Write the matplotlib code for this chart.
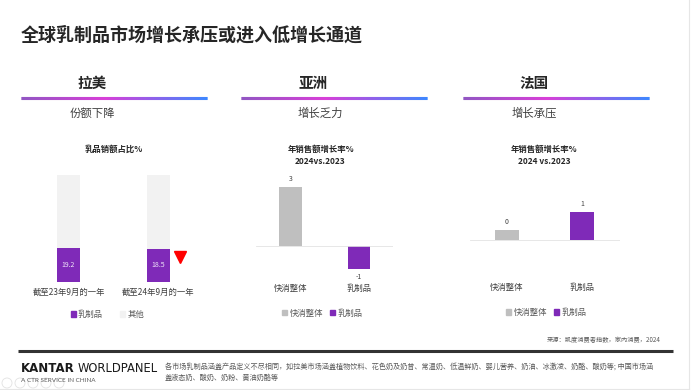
import numpy as np
import matplotlib
matplotlib.use("Agg")
import matplotlib.pyplot as plt
from matplotlib.patches import Patch, Circle
from matplotlib.collections import LineCollection
from matplotlib.colors import LinearSegmentedColormap
from matplotlib.transforms import offset_copy

plt.rcParams['font.family'] = ['Noto Sans CJK SC', 'DejaVu Sans']

# ---------------- data ----------------
title = "全球乳制品市场增长承压或进入低增长通道"
regions = ["拉美", "亚洲", "法国"]
region_notes = ["份额下降", "增长乏力", "增长承压"]

latam_periods = ["截至23年9月的一年", "截至24年9月的一年"]
latam_dairy_share = [19.2, 18.5]
latam_other_share = [80.8, 81.5]
latam_series = ["乳制品", "其他"]

growth_categories = ["快消整体", "乳制品"]
asia_growth = [2.6, -1.04]
france_growth = [0.37, 1.0]

source_text = "来源：凯度消费者指数，家内消费，2024"
footnote_lines = [
    "各市场乳制品涵盖产品定义不尽相同，如拉美市场涵盖植物饮料、花色奶及奶昔、常温奶、低温鲜奶、婴儿营养、奶油、冰激凌、奶酪、酸奶等; 中国市场涵",
    "盖液态奶、酸奶、奶粉、黄油奶酪等",
]

# ---------------- style ----------------
PURPLE = "#7F2AB8"
GREY = "#BFBFBF"
LIGHT = "#F2F2F2"
TXT = "#404040"
W, H = 692, 390

fig = plt.figure(figsize=(W / 100, H / 100), dpi=100)
fig.patch.set_facecolor("white")

bg = fig.add_axes([0, 0, 1, 1])
bg.set_xlim(0, W)
bg.set_ylim(H, 0)
bg.axis("off")


def px_axes(x0, y0, x1, y1):
    return fig.add_axes([x0 / W, 1 - y1 / H, (x1 - x0) / W, (y1 - y0) / H])


# title
bg.text(21, 35, title, fontsize=13, fontweight="bold", color="#262626",
        va="center", ha="left")

# region headers with gradient underline
cmap = LinearSegmentedColormap.from_list(
    "grad", [(0, "#6E1FB0"), (0.45, "#CC00CC"), (1, "#0060FF")])
head_x = [(20.7, 206.7), (241, 427), (462.7, 648.7)]
head_cx = [92, 313.5, 534]
note_cx = [92.8, 320.5, 534]
for (x0, x1), cx, ncx, reg, note in zip(head_x, head_cx, note_cx, regions, region_notes):
    bg.text(cx, 83, reg, fontsize=10.5, fontweight="bold", color="#262626",
            ha="center", va="center")
    xs = np.linspace(x0, x1, 200)
    segs = [[(xs[i], 97.8), (xs[i + 1], 97.8)] for i in range(len(xs) - 1)]
    lc = LineCollection(segs, colors=cmap(np.linspace(0, 1, len(segs))),
                        linewidths=2.2, capstyle="butt")
    bg.add_collection(lc)
    bg.text(ncx, 113, note, fontsize=8.2, color=TXT, ha="center", va="center")

# chart titles
bg.text(113.3, 149.3, "乳品销额占比%", fontsize=6, fontweight="bold",
        color="#262626", ha="center", va="center")
bg.text(320.7, 149.3, "年销售额增长率%", fontsize=6, fontweight="bold",
        color="#262626", ha="center", va="center")
bg.text(320.5, 161.7, "2024vs.2023", fontsize=6, fontweight="bold",
        color="#262626", ha="center", va="center")
bg.text(544.3, 149.3, "年销售额增长率%", fontsize=6, fontweight="bold",
        color="#262626", ha="center", va="center")
bg.text(544.3, 161.7, "2024 vs.2023", fontsize=6, fontweight="bold",
        color="#262626", ha="center", va="center")

# ---------------- Latam stacked bars ----------------
BREAK_V, BREAK_F = 20.0, 1 / 3


def fwd(v):
    v = np.asarray(v, dtype=float)
    return np.where(v <= BREAK_V, v / BREAK_V * BREAK_F,
                    BREAK_F + (v - BREAK_V) / (100 - BREAK_V) * (1 - BREAK_F))


def inv(f):
    f = np.asarray(f, dtype=float)
    return np.where(f <= BREAK_F, f / BREAK_F * BREAK_V,
                    BREAK_V + (f - BREAK_F) / (1 - BREAK_F) * (100 - BREAK_V))


ax1 = px_axes(23.5, 174.7, 203.5, 282)
x1 = np.arange(len(latam_periods))
b1 = ax1.bar(x1, latam_dairy_share, width=0.255, color=PURPLE, label=latam_series[0])
b2 = ax1.bar(x1, latam_other_share, bottom=latam_dairy_share, width=0.255,
             color=LIGHT, label=latam_series[1])
ax1.set_yscale("function", functions=(fwd, inv))
ax1.set_ylim(0, 100)
ax1.set_xlim(-0.5, 1.5)
ax1.bar_label(b1, labels=[f"{v:.1f}" for v in latam_dairy_share],
              label_type="center", color="#F0E6F8", fontsize=5)
ax1.set_xticks(x1)
ax1.set_xticklabels(latam_periods, fontsize=6, color=TXT)
ax1.tick_params(length=0, pad=4)
ax1.set_yticks([])
for s in ax1.spines.values():
    s.set_visible(False)
ax1.patch.set_alpha(0)
# red down-arrow marker next to the second bar
tri_tr = offset_copy(ax1.transData, fig=fig, x=0, y=-8, units="dots")
ax1.plot([1.24], [latam_dairy_share[1]], marker="v", markersize=9,
         color="#FF0000", transform=tri_tr, clip_on=False)
ax1.legend(handles=[Patch(color=PURPLE), Patch(color=LIGHT)], labels=latam_series,
           loc="center", bbox_to_anchor=(107.3 / W, 1 - 314.3 / H),
           bbox_transform=fig.transFigure, ncol=2, frameon=False, fontsize=6,
           handlelength=0.6, handleheight=0.6, handletextpad=0.3,
           columnspacing=2.0, labelcolor="#595959")


# ---------------- growth charts ----------------
def growth_chart(x0, x1, y_top, y_bot, base_y, ppu, values, bar_w, leg_cx, leg_y):
    ax = px_axes(x0, y_top, x1, y_bot)
    xs = np.arange(len(growth_categories))
    bars = ax.bar(xs, values, width=bar_w, color=[GREY, PURPLE])
    ax.set_xlim(-0.5, 1.5)
    ax.set_ylim(-(y_bot - base_y) / ppu, (base_y - y_top) / ppu)
    ax.axhline(0, color="#E3E3E3", linewidth=0.6)
    ax.bar_label(bars, labels=[f"{v:.0f}" for v in values], padding=3,
                 fontsize=5, color=TXT)
    ax.set_xticks(xs)
    ax.set_xticklabels(growth_categories, fontsize=6, color=TXT)
    ax.tick_params(length=0, pad=3)
    ax.set_yticks([])
    for s in ax.spines.values():
        s.set_visible(False)
    ax.patch.set_alpha(0)
    ax.legend(handles=[Patch(color=GREY), Patch(color=PURPLE)],
              labels=growth_categories, loc="center",
              bbox_to_anchor=(leg_cx / W, 1 - leg_y / H),
              bbox_transform=fig.transFigure, ncol=2, frameon=False, fontsize=6,
              handlelength=0.6, handleheight=0.6, handletextpad=0.3,
              columnspacing=0.8, labelcolor="#595959")
    return ax


growth_chart(255.8, 393.4, 175, 280, 245.7, 22.7, asia_growth, 0.33, 322.5, 313)
growth_chart(469.5, 619.5, 175, 279, 240, 27.7, france_growth, 0.33, 546.2, 312.3)

# ---------------- footer ----------------
bg.text(661, 340, source_text, fontsize=4.5, color="#595959", ha="right", va="center")
bg.plot([18, 673], [351, 351], color="#333333", linewidth=2.2, solid_capstyle="butt")

t1 = bg.text(21, 368, "KANTAR", fontsize=8.5, fontweight="bold", color="#1a1a1a",
             family="DejaVu Sans", ha="left", va="center")
fig.canvas.draw()
bb = t1.get_window_extent()
x_after = bb.x1 + 3
bg.text(x_after, 368, "WORLDPANEL", fontsize=8.3, color="#1a1a1a",
        family="DejaVu Sans", ha="left", va="center")
bg.text(21, 380, "A CTR SERVICE IN CHINA", fontsize=4.6, color="#595959",
        family="Lato", ha="left", va="center")

bg.text(165, 367, footnote_lines[0], fontsize=5.15, color="#595959", ha="left", va="center")
bg.text(165, 377.5, footnote_lines[1], fontsize=5.15, color="#595959", ha="left", va="center")

# faint slideshow controls
for cx in [7, 20, 33, 46, 59]:
    bg.add_patch(Circle((cx, 383), 5, fill=False, edgecolor="#E2E2E2", linewidth=0.6))
# slide border
bg.plot([688.5, 688.5], [0, 388.5], color="#E6E6E6", linewidth=0.8)
bg.plot([0, 688.5], [388.5, 388.5], color="#E6E6E6", linewidth=0.8)

fig.savefig("out.png", dpi=100, facecolor="white")
